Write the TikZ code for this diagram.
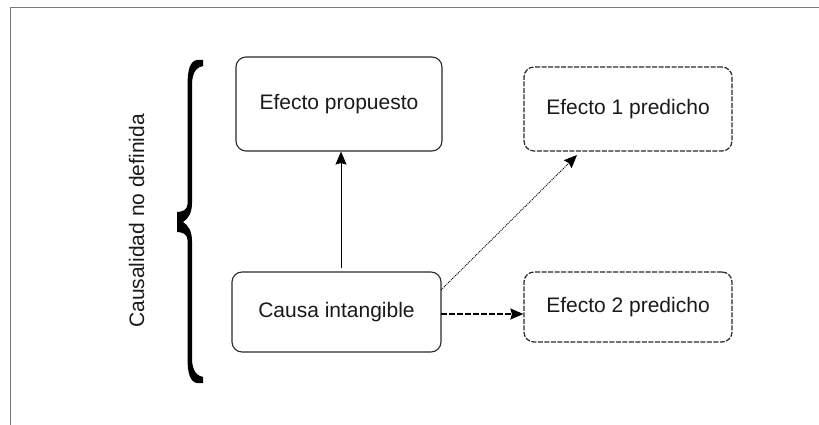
\documentclass[tikz,border=0pt]{standalone}
\usepackage{fontspec}
\setmainfont{Liberation Sans}
\usetikzlibrary{arrows.meta}
\definecolor{framegray}{HTML}{7A7A7A}
\definecolor{inkgray}{HTML}{2A2A2A}
\definecolor{textgray}{HTML}{1A1A1A}
\begin{document}
\begin{tikzpicture}[x=1pt,y=-1pt,
  every node/.style={text=textgray,font=\fontsize{21}{25}\selectfont},
  boxsolid/.style={draw=inkgray,line width=1.1pt,rounded corners=10pt,
    rectangle,inner sep=0pt},
  boxdashed/.style={boxsolid,line width=1.2pt,dash pattern=on 5pt off 1.5pt},
  tip/.style={-{Stealth[length=13pt,width=11pt,inset=1.5pt]}}
]
% canvas and the open frame (top and left rules only)
\useasboundingbox (0,0) rectangle (819,425);
\draw[framegray,line width=1.5pt] (10.5,425) -- (10.5,7.5) -- (819,7.5);

% boxes
\node[boxsolid,minimum width=206pt,minimum height=94pt] (ep) at (339,104) {Efecto propuesto};
\node[boxsolid,minimum width=209pt,minimum height=80pt] (ci) at (336.5,312) {Causa intangible};
\node[boxdashed,minimum width=208pt,minimum height=84pt] (e1) at (628,109) {Efecto 1 predicho};
\node[boxdashed,minimum width=208pt,minimum height=70pt] (e2) at (628,307) {Efecto 2 predicho};

% connector end points
\coordinate (vs) at (341,268);
\coordinate (ds) at (441,290);
\coordinate (de) at (577,155);
\coordinate (hs) at (441,314);

% connectors
\draw[tip,black,line width=1pt] (vs) -- (vs |- ep.south);
\draw[tip,black,line width=0.9pt,dash pattern=on 1pt off 1pt] (ds) -- (de);
\draw[tip,black,line width=1.6pt,dash pattern=on 6pt off 2pt] (hs) -- (hs -| e2.west);

% curly brace
\fill[black]
  (187.5,85) .. controls (187.5,70) and (190,61) .. (197,60) -- (203,60) -- (203,66)
  .. controls (197,67) and (192,72) .. (192,85)
  -- (192,203) .. controls (192,213) and (188,219) .. (183,222)
  .. controls (188,225) and (192,231) .. (192,241)
  -- (192,358) .. controls (192,371) and (197,376) .. (203,377) -- (203,383) -- (197,383)
  .. controls (190,382) and (187.5,373) .. (187.5,358)
  -- (187.5,240) .. controls (187.5,234) and (182,232) .. (177,232)
  -- (177,212) .. controls (182,212) and (187.5,210) .. (187.5,204) -- cycle;

% side label
\node[rotate=90,inner sep=0pt] (lbl) at (136.5,221) {Causalidad no definida};
\end{tikzpicture}
\end{document}
